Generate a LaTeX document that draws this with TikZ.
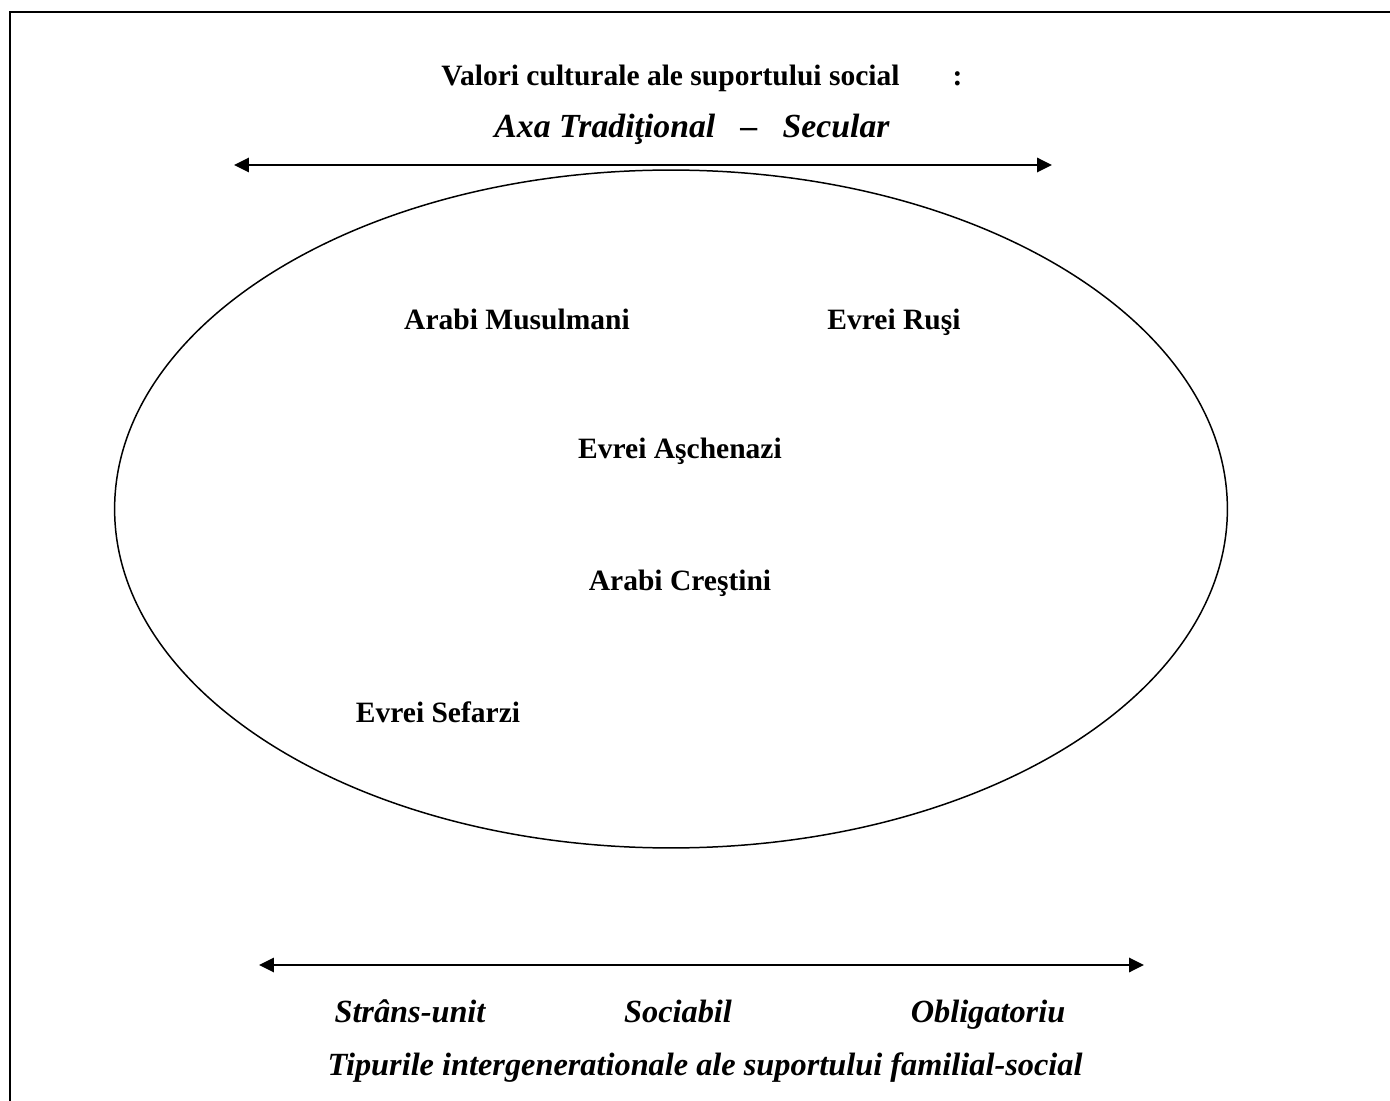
\documentclass[tikz,border=0pt]{standalone}
\usepackage{fontspec}
\setmainfont{Liberation Serif}
\usepackage{tikz}
\usetikzlibrary{shapes.geometric, arrows.meta, positioning}

\begin{document}
\begin{tikzpicture}[x=0.02cm, y=-0.02cm, >={Triangle[length=8.5pt,width=8pt]},
  lbl/.style={font=\fontsize{16.8}{19}\selectfont\bfseries, inner sep=0pt, anchor=base},
  axlbl/.style={font=\fontsize{18.4}{21}\selectfont\bfseries\itshape, inner sep=0pt, anchor=base},
  axis/.style={<->, line width=1.7pt}]

  \useasboundingbox (0,0) rectangle (1390,1101);
  \draw[line width=1.1pt] (10,1120) -- (10,12) -- (1410,12);

  % upper axis
  \node[lbl] (title) at (702,86) {Valori culturale ale suportului social\hspace{1.8em}:};
  \node[axlbl, font=\fontsize{19.2}{22}\selectfont\bfseries\itshape] (axa) at (692,138)
    {Axa Tradiţional\ \ \ –\ \ \ Secular};
  \coordinate (tl) at (234,165);
  \coordinate (tr) at (1052,165);
  \draw[axis] (tl) -- (tr);

  % groups
  \node[draw, ellipse, line width=0.85pt, inner sep=0pt,
        minimum width=22.26cm, minimum height=13.56cm] (grp) at (671,509) {};
  \node[lbl] (am) at (517,330) {Arabi Musulmani};
  \node[lbl] (er) at (894,330) {Evrei Ruşi};
  \node[lbl] (ea) at (680,459) {Evrei Aşchenazi};
  \node[lbl] (ac) at (680,590) {Arabi Creştini};
  \node[lbl] (es) at (438,722) {Evrei Sefarzi};

  % lower axis
  \coordinate (bl) at (259,965);
  \coordinate (br) at (1144,965);
  \draw[axis] (bl) -- (br);
  \node[axlbl] (su) at (410,1022) {Strâns-unit};
  \node[axlbl] (so) at (678,1022) {Sociabil};
  \node[axlbl] (ob) at (988,1022) {Obligatoriu};
  \node[axlbl] (tip) at (705,1075) {Tipurile intergenerationale ale suportului familial-social};

\end{tikzpicture}
\end{document}
